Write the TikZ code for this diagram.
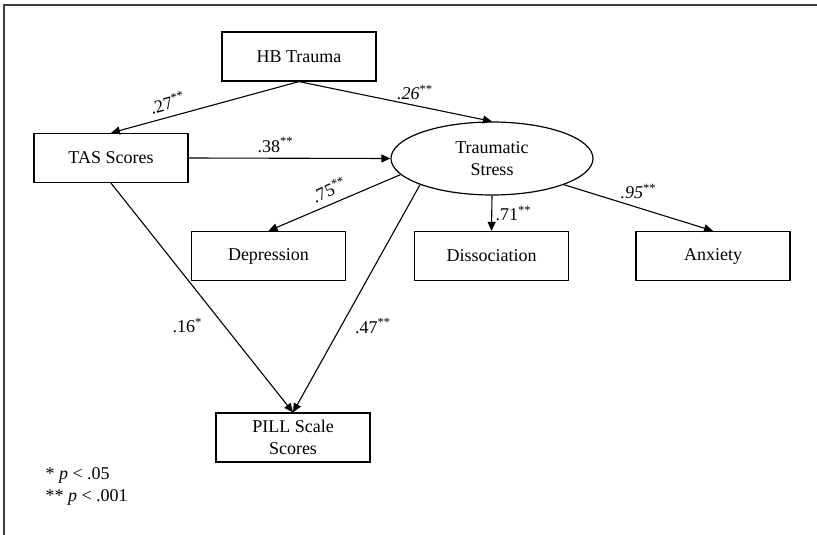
\documentclass[tikz,border=0pt]{standalone}
\usepackage{fontspec}
\setmainfont{Liberation Serif}
\usepackage{tikz}
\usetikzlibrary{shapes.geometric,arrows.meta}

\tikzset{
  box/.style={draw, line width=1.2pt, minimum width=154pt, minimum height=49pt, align=center},
  latent/.style={draw, ellipse, line width=1.2pt, minimum width=202pt, minimum height=73pt, inner sep=0pt, align=center},
  path/.style={line width=1.1pt, -{Triangle[length=9pt,width=8pt]}},
}

\begin{document}
\begin{tikzpicture}[x=1pt, y=-1pt, font=\fontsize{18}{22}\selectfont]
                \useasboundingbox (0,0) rectangle (817,535);
                \draw[line width=1.5pt, black!75] (4,535) -- (4,5) -- (817,5);
                \node[box] (hb) at (299,56.5) {HB Trauma};
                \node[box] (tas) at (111,158) {TAS Scores};
                \node[latent] (ts) at (492,158.5) {Traumatic\\Stress};
                \node[box] (dep) at (268.5,256) {Depression};
                \node[box] (dis) at (491.5,256) {Dissociation};
                \node[box] (anx) at (713,256) {Anxiety};
                \node[box] (pill) at (293,437.5) {PILL Scale\\Scores};
                \draw[path] (hb.south) -- (tas.north) node[pos=0.68, above=3pt, sloped] {.27\textsuperscript{**}};
                \draw[path] (hb.south) -- (ts.north) node[pos=0.6, above=2pt] {\textit{.26}\textsuperscript{**}};
                \draw[path] (tas.east) -- (ts.west) node[pos=0.43, above=2pt] {.38\textsuperscript{**}};
                \draw[path] (ts.190) -- (dep.north) node[midway, above=3pt, sloped] {.75\textsuperscript{**}};
                \draw[path] (ts.south) -- (dis.north) node[midway, right] {.71\textsuperscript{**}};
                \draw[path] (ts.340) -- (anx.north) node[midway, above=5pt] {\textit{.95}\textsuperscript{**}};
                \draw[path] (tas.south) -- (pill.north) node[pos=0.62, left=18pt] {.16\textsuperscript{*}};
                \draw[path] (ts.200) -- (pill.north) node[pos=0.62, right=10pt] {.47\textsuperscript{**}};
                \node[anchor=west] (p1) at (42,475) {* \textit{p} < .05};
                \node[anchor=west] (p2) at (42,497) {** \textit{p} < .001};
                \end{tikzpicture}
\end{document}
